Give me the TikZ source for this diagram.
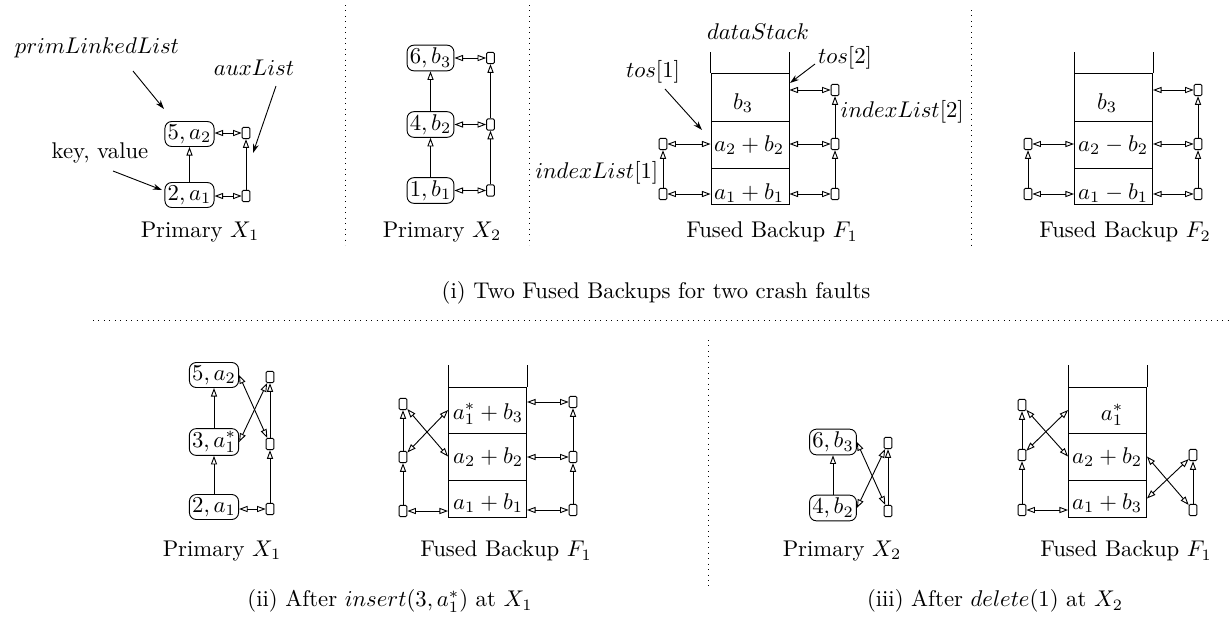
\documentclass[tikz,border=0pt]{standalone}
\usetikzlibrary{arrows.meta}
\def\pxu{0.44pt}
\tikzset{
 kv/.style={draw, rounded corners=3pt, inner sep=1.2pt, minimum height=11pt},
 sq/.style={draw, rounded corners=0.6pt, minimum width=3.4pt, minimum height=5pt, inner sep=0pt},
 row/.style={draw, minimum width=78*\pxu, inner sep=0pt},
 txt/.style={inner sep=1pt},
 otri/.tip={Triangle[open,length=3.8pt,width=2.7pt]},
 up/.style={-otri},
 dbl/.style={otri-otri},
 lbl/.style={-{Stealth[length=4pt,width=2.6pt]}},
 sepline/.style={dotted, line width=0.4pt},
}
\begin{document}
\begin{tikzpicture}[x=0.44pt,y=-0.44pt]
\useasboundingbox (0,0) rectangle (1229,616);

% ================= Panel 1: Primary X1
\node[kv] (P1a) at (189.5,134) {$5,a_2$};
\node[kv] (P1b) at (189.5,195) {$2,a_1$};
\node[sq] (P1s1) at (246,133) {};
\node[sq] (P1s2) at (246,196) {};
\draw[up] (P1b) -- (P1a);
\draw[up] (P1s2) -- (P1s1);
\draw[dbl] (P1a.east |- P1s1) -- (P1s1);
\draw[dbl] (P1b.east |- P1s2) -- (P1s2);
\node[txt] (Lpl) at (97,48) {$primLinkedList$};
\coordinate (Lpl1) at (133,71); \coordinate (Lpl2) at (164,109);
\draw[lbl] (Lpl1) -- (Lpl2);
\node[txt] (Lal) at (254,68) {$auxList$};
\coordinate (Lal1) at (276,86); \coordinate (Lal2) at (253,153);
\draw[lbl] (Lal1) -- (Lal2);
\node[txt] (Lkv) at (100,153) {key, value};
\coordinate (Lkv1) at (113,171); \coordinate (Lkv2) at (162,190);
\draw[lbl] (Lkv1) -- (Lkv2);
\node[txt] (P1lab) at (200,232) {Primary $X_1$};

% ================= Panel 2: Primary X2
\node[kv] (P2a) at (430.5,58) {$6,b_3$};
\node[kv] (P2b) at (430.5,124.5) {$4,b_2$};
\node[kv] (P2c) at (430.5,190.5) {$1,b_1$};
\node[sq] (P2s1) at (490.5,58) {};
\node[sq] (P2s2) at (490.5,124.5) {};
\node[sq] (P2s3) at (490.5,190.5) {};
\draw[up] (P2c) -- (P2b);
\draw[up] (P2b) -- (P2a);
\draw[up] (P2s3) -- (P2s2);
\draw[up] (P2s2) -- (P2s1);
\draw[dbl] (P2a) -- (P2s1);
\draw[dbl] (P2b) -- (P2s2);
\draw[dbl] (P2c) -- (P2s3);
\node[txt] (P2lab) at (442,232) {Primary $X_2$};

% ================= Panel 3: Fused Backup F1
\node[row, minimum height=48*\pxu] (F1r3) at (750,97) {};
\node[row, minimum height=47*\pxu] (F1r2) at (750,144.5) {};
\node[row, minimum height=36*\pxu] (F1r1) at (750,186) {};
\draw (F1r3.north west) -- ++(0,-21);
\draw (F1r3.north east) -- ++(0,-21);
\node[txt] (F1t3) at (743,103) {$b_3$};
\node[txt] (F1t2) at (749,145) {$a_2+b_2$};
\node[txt] (F1t1) at (749,193) {$a_1+b_1$};
\node[sq] (F1L2) at (663,144) {};
\node[sq] (F1L1) at (663,194) {};
\node[sq] (F1R3) at (835,90) {};
\node[sq] (F1R2) at (835,144) {};
\node[sq] (F1R1) at (835,194) {};
\draw[dbl] (F1L2) -- (F1L2 -| F1r2.west);
\draw[dbl] (F1L1) -- (F1L1 -| F1r1.west);
\draw[dbl] (F1R3) -- (F1R3 -| F1r3.east);
\draw[dbl] (F1R2) -- (F1R2 -| F1r2.east);
\draw[dbl] (F1R1) -- (F1R1 -| F1r1.east);
\draw[up] (F1L1) -- (F1L2);
\draw[up] (F1R1) -- (F1R2);
\draw[up] (F1R2) -- (F1R3);
\node[txt] (F1ds) at (758,32) {$dataStack$};
\node[txt] (F1tos1) at (653,72) {$tos[1]$};
\coordinate (F1a1) at (665,89); \coordinate (F1a2) at (702,130);
\draw[lbl] (F1a1) -- (F1a2);
\node[txt] (F1tos2) at (845,58) {$tos[2]$};
\coordinate (F1b1) at (815,64); \coordinate (F1b2) at (790,83);
\draw[lbl] (F1b1) -- (F1b2);
\node[txt, anchor=east] (F1il1) at (661,173) {$indexList[1]$};
\node[txt, anchor=west] (F1il2) at (838,112) {$indexList[2]$};
\node[txt] (F1lab) at (772,232) {Fused Backup $F_1$};

% ================= Panel 4: Fused Backup F2
\node[row, minimum height=48*\pxu] (F2r3) at (1113.5,97) {};
\node[row, minimum height=47*\pxu] (F2r2) at (1113.5,144.5) {};
\node[row, minimum height=36*\pxu] (F2r1) at (1113.5,186) {};
\draw (F2r3.north west) -- ++(0,-21);
\draw (F2r3.north east) -- ++(0,-21);
\node[txt] (F2t3) at (1107,103) {$b_3$};
\node[txt] (F2t2) at (1113,145) {$a_2-b_2$};
\node[txt] (F2t1) at (1113,193) {$a_1-b_1$};
\node[sq] (F2L2) at (1028,144) {};
\node[sq] (F2L1) at (1028,194) {};
\node[sq] (F2R3) at (1198,90) {};
\node[sq] (F2R2) at (1198,144) {};
\node[sq] (F2R1) at (1198,194) {};
\draw[dbl] (F2L2) -- (F2L2 -| F2r2.west);
\draw[dbl] (F2L1) -- (F2L1 -| F2r1.west);
\draw[dbl] (F2R3) -- (F2R3 -| F2r3.east);
\draw[dbl] (F2R2) -- (F2R2 -| F2r2.east);
\draw[dbl] (F2R1) -- (F2R1 -| F2r1.east);
\draw[up] (F2L1) -- (F2L2);
\draw[up] (F2R1) -- (F2R2);
\draw[up] (F2R2) -- (F2R3);
\node[txt] (F2lab) at (1125,232) {Fused Backup $F_2$};

% separators top
\coordinate (S1a) at (345,5); \coordinate (S1b) at (345,245);
\coordinate (S2a) at (529,5); \coordinate (S2b) at (529,245);
\coordinate (S3a) at (971,10); \coordinate (S3b) at (971,247);
\draw[sepline] (S1a) -- (S1b);
\draw[sepline] (S2a) -- (S2b);
\draw[sepline] (S3a) -- (S3b);
\node[txt] (cap1) at (656,293) {(i) Two Fused Backups for two crash faults};
\coordinate (H1) at (93,320); \coordinate (H2) at (1229,320);
\draw[sepline] (H1) -- (H2);

% ================= (ii) Primary X1
\node[kv] (Q1a) at (214,375) {$5,a_2$};
\node[kv] (Q1b) at (214,442) {$3,a_1^*$};
\node[kv] (Q1c) at (214,507) {$2,a_1$};
\node[sq] (Q1s1) at (270,377) {};
\node[sq] (Q1s2) at (270,444) {};
\node[sq] (Q1s3) at (270,509) {};
\draw[up] (Q1c) -- (Q1b);
\draw[up] (Q1b) -- (Q1a);
\draw[up] (Q1s3) -- (Q1s2);
\draw[up] (Q1s2) -- (Q1s1);
\draw[dbl] (Q1a.east) -- (Q1s2);
\draw[dbl] (Q1b.east) -- (Q1s1);
\draw[dbl] (Q1c.east |- Q1s3) -- (Q1s3);
\node[txt] (Q1lab) at (222,551) {Primary $X_1$};

% ================= (ii) Fused Backup F1
\node[row, minimum height=46*\pxu] (G1r3) at (487.5,410) {};
\node[row, minimum height=47*\pxu] (G1r2) at (487.5,456.5) {};
\node[row, minimum height=37*\pxu] (G1r1) at (487.5,498.5) {};
\draw (G1r3.north west) -- ++(0,-22);
\draw (G1r3.north east) -- ++(0,-22);
\node[txt] (G1t3) at (488,414) {$a_1^*+b_3$};
\node[txt] (G1t2) at (488,457) {$a_2+b_2$};
\node[txt] (G1t1) at (488,503) {$a_1+b_1$};
\node[sq] (G1L3) at (403,404) {};
\node[sq] (G1L2) at (403,457) {};
\node[sq] (G1L1) at (403,511) {};
\node[sq] (G1R3) at (573,402) {};
\node[sq] (G1R2) at (573,457) {};
\node[sq] (G1R1) at (573,510) {};
\draw[dbl] (G1L3) -- (G1r2.west);
\draw[dbl] (G1L2) -- (G1r3.west);
\draw[dbl] (G1L1) -- (G1L1 -| G1r1.west);
\draw[dbl] (G1R3) -- (G1R3 -| G1r3.east);
\draw[dbl] (G1R2) -- (G1R2 -| G1r2.east);
\draw[dbl] (G1R1) -- (G1R1 -| G1r1.east);
\draw[up] (G1L1) -- (G1L2);
\draw[up] (G1L2) -- (G1L3);
\draw[up] (G1R1) -- (G1R2);
\draw[up] (G1R2) -- (G1R3);
\node[txt] (G1lab) at (506,551) {Fused Backup $F_1$};
\node[txt] (cap2) at (390,601) {(ii) After $insert(3,a_1^*)$ at $X_1$};

% separator bottom
\coordinate (S4a) at (708,340); \coordinate (S4b) at (708,590);
\draw[sepline] (S4a) -- (S4b);

% ================= (iii) Primary X2
\node[kv] (Q2a) at (833,442) {$6,b_3$};
\node[kv] (Q2b) at (833,508) {$4,b_2$};
\node[sq] (Q2s1) at (888,443) {};
\node[sq] (Q2s2) at (888,511) {};
\draw[up] (Q2b) -- (Q2a);
\draw[up] (Q2s2) -- (Q2s1);
\draw[dbl] (Q2a.east) -- (Q2s2);
\draw[dbl] (Q2b.east) -- (Q2s1);
\node[txt] (Q2lab) at (842,551) {Primary $X_2$};

% ================= (iii) Fused Backup F1
\node[row, minimum height=46*\pxu] (H1r3) at (1107.5,410) {};
\node[row, minimum height=47*\pxu] (H1r2) at (1107.5,456.5) {};
\node[row, minimum height=37*\pxu] (H1r1) at (1107.5,498.5) {};
\draw (H1r3.north west) -- ++(0,-22);
\draw (H1r3.north east) -- ++(0,-22);
\node[txt] (H1t3) at (1112,415) {$a_1^*$};
\node[txt] (H1t2) at (1107,457) {$a_2+b_2$};
\node[txt] (H1t1) at (1107,503) {$a_1+b_3$};
\node[sq] (H1L3) at (1022,405) {};
\node[sq] (H1L2) at (1022,455) {};
\node[sq] (H1L1) at (1022,510) {};
\node[sq] (H1R2) at (1193,455) {};
\node[sq] (H1R1) at (1193,510) {};
\draw[dbl] (H1L3) -- (H1r2.west);
\draw[dbl] (H1L2) -- (H1r3.west);
\draw[dbl] (H1L1) -- (H1L1 -| H1r1.west);
\draw[dbl] (H1r2.east) -- (H1R1);
\draw[dbl] (H1r1.east) -- (H1R2);
\draw[up] (H1L1) -- (H1L2);
\draw[up] (H1L2) -- (H1L3);
\draw[up] (H1R1) -- (H1R2);
\node[txt] (H1lab) at (1126,551) {Fused Backup $F_1$};
\node[txt] (cap3) at (995,601) {(iii) After $delete(1)$ at $X_2$};
\end{tikzpicture}
\end{document}
